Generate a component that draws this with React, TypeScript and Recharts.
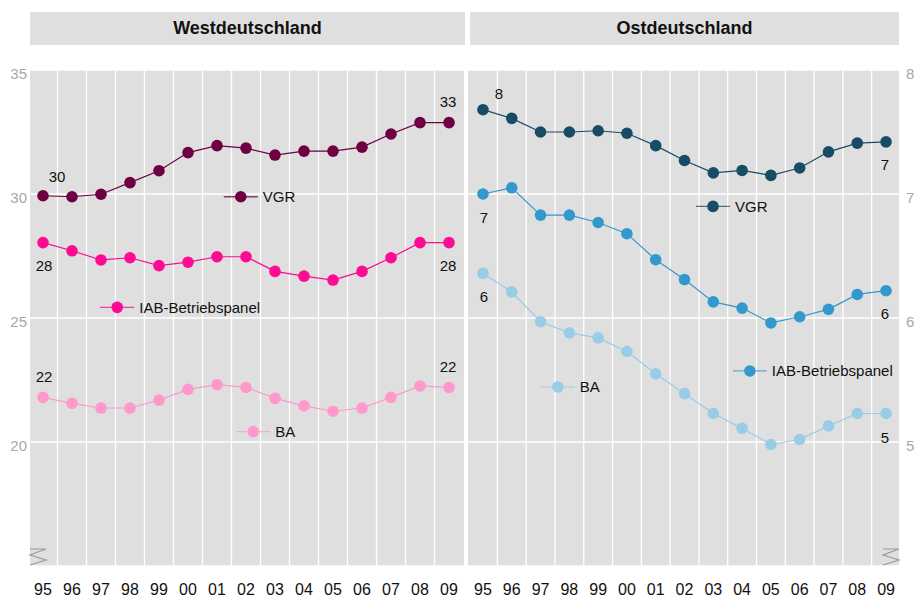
import React from 'react';
import { LineChart, Line, XAxis, YAxis, CartesianGrid, ReferenceDot, LabelList } from 'recharts';

const years = ['95', '96', '97', '98', '99', '00', '01', '02', '03', '04', '05', '06', '07', '08', '09'];

const westVGR = [29.93, 29.89, 29.99, 30.46, 30.94, 31.67, 31.95, 31.85, 31.57, 31.73, 31.73, 31.89, 32.42, 32.88, 32.88];
const westIAB = [28.04, 27.71, 27.34, 27.43, 27.11, 27.25, 27.47, 27.47, 26.88, 26.69, 26.53, 26.88, 27.43, 28.04, 28.04];
const westBA = [21.8, 21.56, 21.37, 21.37, 21.69, 22.12, 22.31, 22.2, 21.76, 21.46, 21.24, 21.37, 21.8, 22.26, 22.2];

const eastVGR = [7.68, 7.61, 7.5, 7.5, 7.51, 7.49, 7.39, 7.27, 7.17, 7.19, 7.15, 7.21, 7.34, 7.41, 7.42];
const eastIAB = [7.0, 7.05, 6.83, 6.83, 6.77, 6.68, 6.47, 6.31, 6.13, 6.08, 5.96, 6.01, 6.07, 6.19, 6.22];
const eastBA = [6.36, 6.21, 5.97, 5.88, 5.84, 5.73, 5.55, 5.39, 5.23, 5.11, 4.98, 5.02, 5.13, 5.23, 5.23];

const seriesNames = ['VGR', 'IAB-Betriebspanel', 'BA'];
const westTicks = [20, 25, 30, 35];
const eastTicks = [5, 6, 7, 8];

const FONT = '"Liberation Sans", Arial, Helvetica, sans-serif';
const PANEL_BG = '#dfdfdf';
const AXIS_GREY = '#a8a8a8';

const buildRows = (a: number[], b: number[], c: number[]) =>
  years.map((_, i) => ({ i, vgr: a[i], iab: b[i], ba: c[i] }));

const westRows = buildRows(westVGR, westIAB, westBA);
const eastRows = buildRows(eastVGR, eastIAB, eastBA);
const gridValues = years.slice(1).map((_, i) => i + 0.5);

type Off = [number, number];
type SeriesCfg = {
  key: 'vgr' | 'iab' | 'ba';
  name: string;
  color: string;
  first: Off;
  last: Off;
  legend: [number, number];
};

const westSeries: SeriesCfg[] = [
  { key: 'vgr', name: seriesNames[0], color: '#6e0042', first: [14, -19], last: [-1, -21], legend: [6.82, 29.89] },
  { key: 'iab', name: seriesNames[1], color: '#ff0a93', first: [1, 23], last: [-1, 23], legend: [2.56, 25.43] },
  { key: 'ba', name: seriesNames[2], color: '#ff99cc', first: [1, -21], last: [-1, -21], legend: [7.25, 20.42] },
];

const eastSeries: SeriesCfg[] = [
  { key: 'vgr', name: seriesNames[0], color: '#174b66', first: [16, -16], last: [-1, 23], legend: [7.99, 6.9] },
  { key: 'iab', name: seriesNames[1], color: '#3399cc', first: [1, 23], last: [-1, 23], legend: [9.27, 5.573] },
  { key: 'ba', name: seriesNames[2], color: '#99cce6', first: [1, 23], last: [-1, 24], legend: [2.6, 5.444] },
];

const makeEndLabel = (cfg: SeriesCfg, n: number) => (props: any) => {
  const { x, y, index, value } = props;
  if (index !== 0 && index !== n - 1) return <g />;
  const [dx, dy] = index === 0 ? cfg.first : cfg.last;
  return (
    <text
      x={Number(x) + dx}
      y={Number(y) + dy}
      textAnchor="middle"
      dominantBaseline="central"
      fontSize={15}
      fontFamily={FONT}
      fill="#111"
    >
      {Math.round(Number(value))}
    </text>
  );
};

const makeLegendShape = (cfg: SeriesCfg) => (props: any) => {
  const { cx, cy } = props;
  return (
    <g>
      <line x1={cx - 17} y1={cy} x2={cx + 17} y2={cy} stroke={cfg.color} strokeOpacity={0.75} strokeWidth={1.3} />
      <circle cx={cx} cy={cy} r={5.8} fill={cfg.color} />
      <text x={cx + 22} y={cy} dominantBaseline="central" fontSize={15} fontFamily={FONT} fill="#111">
        {cfg.name}
      </text>
    </g>
  );
};

const breakShape = (side: 'left' | 'right') => (props: any) => {
  const { cx, cy } = props;
  const x0 = side === 'left' ? cx : cx - 16;
  const x1 = x0 + 16;
  const pts = [
    [x0, cy - 17],
    [x1, cy - 17],
    [x0, cy - 11],
    [x1, cy - 6],
    [x0, cy - 1],
  ]
    .map((p) => p.join(','))
    .join(' ');
  return <polyline points={pts} fill="none" stroke="#9a9a9a" strokeWidth={1.2} />;
};

type PanelProps = {
  rows: any[];
  series: SeriesCfg[];
  domainY: [number, number];
  ticksY: number[];
  domainX: [number, number];
  side: 'left' | 'right';
  left: number;
  width: number;
  margin: any;
  yWidth: number;
};

function Panel(p: PanelProps) {
  const n = years.length;
  return (
    <div style={{ position: 'absolute', left: p.left, top: 0, width: p.width, height: 598 }}>
      <LineChart width={p.width} height={598} data={p.rows} margin={p.margin}>
        <CartesianGrid
          fill={PANEL_BG}
          fillOpacity={1}
          stroke="#ffffff"
          strokeWidth={1.3}
          verticalValues={gridValues}
        />
        <XAxis
          type="number"
          dataKey="i"
          domain={p.domainX}
          allowDataOverflow={true}
          ticks={years.map((_, i) => i)}
          tickFormatter={(v: number) => years[Math.round(v)]}
          interval={0}
          axisLine={false}
          tickLine={false}
          tickSize={0}
          tickMargin={18}
          height={32}
          tick={{ fontSize: 16, fill: '#111', fontFamily: FONT }}
        />
        <YAxis
          orientation={p.side}
          domain={p.domainY}
          allowDataOverflow={true}
          ticks={p.ticksY}
          interval={0}
          axisLine={false}
          tickLine={false}
          tickSize={0}
          tickMargin={p.side === 'left' ? 3 : 7}
          width={p.yWidth}
          tick={{ fontSize: 15, fill: AXIS_GREY, fontFamily: FONT, dy: 4 }}
        />
        {p.series.map((s) => (
          <Line
            key={s.key}
            type="linear"
            dataKey={s.key}
            stroke={s.color}
            strokeWidth={1.2}
            dot={{ r: 5.8, fill: s.color, stroke: 'none' }}
            activeDot={false}
            isAnimationActive={false}
          >
            <LabelList dataKey={s.key} content={makeEndLabel(s, n)} />
          </Line>
        ))}
        {p.series.map((s) => (
          <ReferenceDot
            key={'leg-' + s.key}
            x={s.legend[0]}
            y={s.legend[1]}
            r={6}
            ifOverflow="visible"
            shape={makeLegendShape(s)}
          />
        ))}
        <ReferenceDot
          x={p.side === 'left' ? p.domainX[0] : p.domainX[1]}
          y={p.domainY[0]}
          r={1}
          ifOverflow="visible"
          shape={breakShape(p.side)}
        />
      </LineChart>
    </div>
  );
}

const stripStyle: React.CSSProperties = {
  position: 'absolute',
  top: 12,
  height: 33,
  lineHeight: '33px',
  background: PANEL_BG,
  textAlign: 'center',
  fontWeight: 'bold',
  fontSize: 18,
  color: '#111',
  fontFamily: FONT,
};

export default function App() {
  return (
    <div
      style={{
        position: 'absolute',
        left: 0,
        top: 0,
        width: 916,
        height: 598,
        background: '#fff',
        fontFamily: FONT,
        overflow: 'hidden',
      }}
    >
      <div style={{ ...stripStyle, left: 30, width: 435 }}>Westdeutschland</div>
      <div style={{ ...stripStyle, left: 470, width: 429 }}>Ostdeutschland</div>
      <Panel
        rows={westRows}
        series={westSeries}
        domainY={[15, 35]}
        ticksY={westTicks}
        domainX={[-0.448, 14.517]}
        side="left"
        left={0}
        width={466}
        margin={{ top: 70, right: 2, bottom: 0, left: 0 }}
        yWidth={30}
      />
      <Panel
        rows={eastRows}
        series={eastSeries}
        domainY={[4, 8]}
        ticksY={eastTicks}
        domainX={[-0.52, 14.45]}
        side="right"
        left={466}
        width={450}
        margin={{ top: 70, right: 0, bottom: 0, left: 2 }}
        yWidth={17}
      />
    </div>
  );
}
